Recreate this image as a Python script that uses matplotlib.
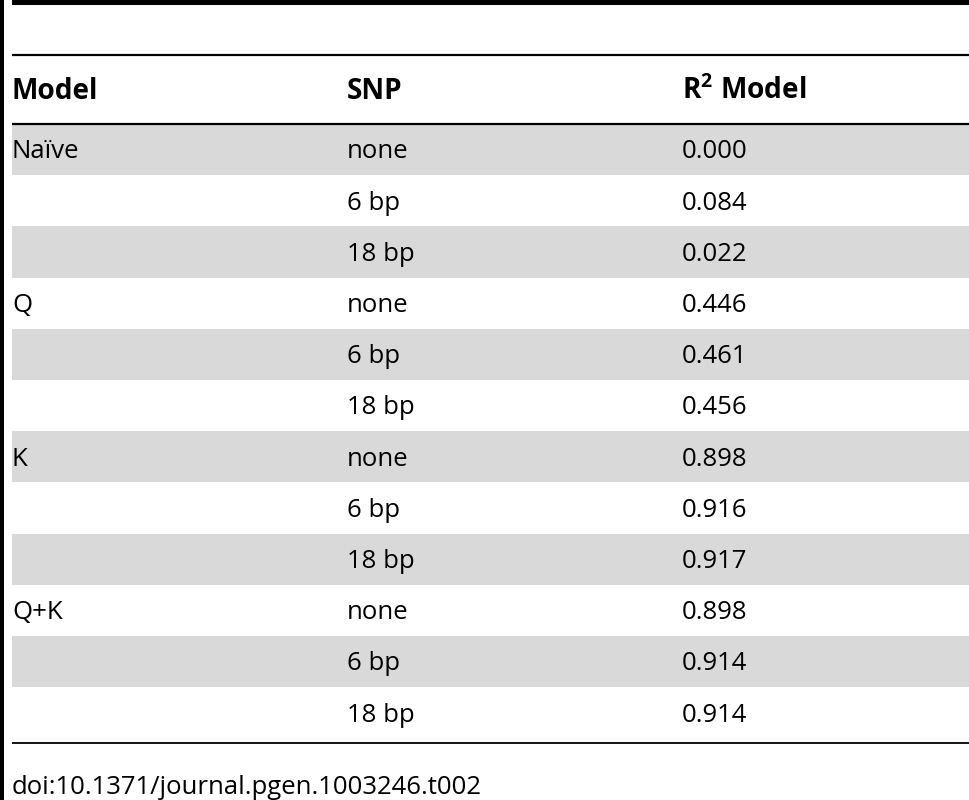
import matplotlib
matplotlib.use('Agg')
import matplotlib.pyplot as plt
from matplotlib.patches import Rectangle

plt.rcParams['font.family'] = ['Open Sans', 'DejaVu Sans']
plt.rcParams['mathtext.fontset'] = 'custom'
plt.rcParams['mathtext.rm'] = 'Open Sans'
plt.rcParams['mathtext.bf'] = 'Open Sans:bold'

# table content
headers = ['Model', 'SNP', r'R$^{\mathbf{2}}$ Model']
models = ['Naïve', '', '', 'Q', '', '', 'K', '', '', 'Q+K', '', '']
snps = ['none', '6 bp', '18 bp'] * 4
r2 = ['0.000', '0.084', '0.022',
      '0.446', '0.461', '0.456',
      '0.898', '0.916', '0.917',
      '0.898', '0.914', '0.914']
footer = 'doi:10.1371/journal.pgen.1003246.t002'

W, H = 969, 800
fig = plt.figure(figsize=(W / 100, H / 100), dpi=100)
ax = fig.add_axes([0, 0, 1, 1])
ax.set_xlim(0, W)
ax.set_ylim(H, 0)
ax.axis('off')

col_x = [12, 347, 682]
row_top = 124
row_h = 51.2
fs = 18.5
fs_head = 20.2
shade = '#d9d9d9'

# left black bar
ax.add_patch(Rectangle((0, 0), 4, H, color='black', lw=0))

# striped rows
for i in range(len(snps)):
    y0 = row_top + i * row_h
    if i % 2 == 0:
        ax.add_patch(Rectangle((12, y0), W - 12, row_h, color=shade, lw=0))
    base = y0 + 34.5
    for x, val in zip(col_x, [models[i], snps[i], r2[i]]):
        ax.text(x, base, val, fontsize=fs, va='baseline', ha='left', color='black')

# horizontal rules
ax.add_patch(Rectangle((12, 0), W - 12, 4.5, color='black', lw=0))
ax.plot([12, W], [54.5, 54.5], color='black', lw=1.6, solid_capstyle='butt')
ax.plot([12, W], [124, 124], color='black', lw=1.6, solid_capstyle='butt')
end_y = row_top + len(snps) * row_h + 5
ax.plot([12, W], [end_y, end_y], color='black', lw=1.3, solid_capstyle='butt')

# header
for x, h in zip(col_x, headers):
    ax.text(x, 99, h, fontsize=fs_head, fontweight='bold', va='baseline', ha='left')

ax.text(12, 794, footer, fontsize=fs, va='baseline', ha='left')

fig.savefig('out.png', dpi=100)
